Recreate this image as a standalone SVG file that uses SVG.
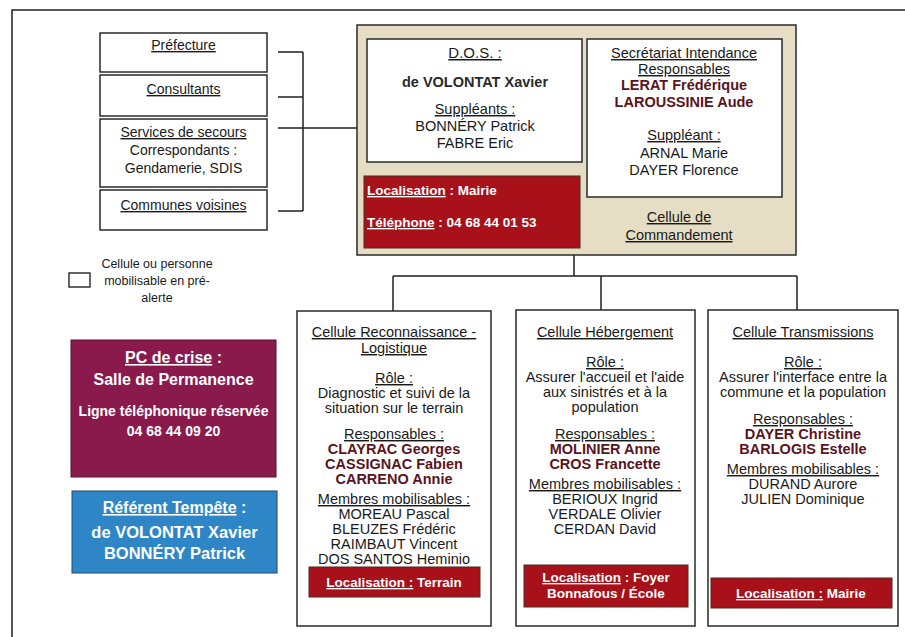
<svg xmlns="http://www.w3.org/2000/svg" width="905" height="637" viewBox="0 0 905 637">
<style>
text{font-family:"Liberation Sans",Arial,sans-serif;text-anchor:middle;fill:#1a1a1a}
.r{font-size:14.5px}
.b{font-size:14.5px;font-weight:bold;fill:#5a1420}
.u{text-decoration:underline}
.w{fill:#ffffff;font-weight:bold}
.box{fill:#ffffff;stroke:#2a2a2a;stroke-width:1.5}
.red{fill:#a8101a;stroke:#4a2a20;stroke-width:1}
.ln{stroke:#222;stroke-width:1.5;fill:none}
</style>
<rect x="0" y="0" width="905" height="637" fill="#ffffff"/>
<path class="ln" d="M12,637 V10 H905"/>

<g id="connectors">
<path class="ln" d="M278,52 H303 M278,97 H303 M278,211 H303 M303,52 V211 M278,128 H357"/>
<path class="ln" d="M574,255 V276 M393,276 H797 M393,276 V311 M601,276 V310 M797,276 V310"/>
</g>

<g id="prefecture">
<rect class="box" x="100" y="33" width="167" height="39"/>
<text class="r u" x="183.5" y="50" style="font-size:14px">Préfecture</text>
</g>
<g id="consultants">
<rect class="box" x="100" y="75" width="167" height="41"/>
<text class="r u" x="183.5" y="94" style="font-size:14px">Consultants</text>
</g>
<g id="services">
<rect class="box" x="100" y="119" width="167" height="68"/>
<text class="r" x="183.5" y="137" style="font-size:14px"><tspan class="u">Services de secours</tspan></text>
<text class="r" x="183.5" y="155" style="font-size:14px">Correspondants :</text>
<text class="r" x="183.5" y="173" style="font-size:14px">Gendamerie, SDIS</text>
</g>
<g id="communes">
<rect class="box" x="100" y="190" width="167" height="40"/>
<text class="r u" x="183.5" y="210" style="font-size:14px">Communes voisines</text>
</g>

<g id="legend">
<rect x="69" y="273" width="21" height="14" fill="#fff" stroke="#333" stroke-width="1.5"/>
<text x="157" y="268" style="font-size:12.5px">Cellule ou personne</text>
<text x="157" y="285" style="font-size:12.5px">mobilisable en pré-</text>
<text x="157" y="302" style="font-size:12.5px">alerte</text>
</g>

<g id="commandement">
<rect x="357" y="25" width="439" height="230" fill="#e6dec4" stroke="#2a2a2a" stroke-width="1.5"/>
<rect class="box" x="367" y="39" width="215" height="123"/>
<text class="r u" x="475" y="58" style="font-size:15px">D.O.S. :</text>
<text x="475" y="87" style="font-size:14.5px;font-weight:bold;fill:#2a2a2a">de VOLONTAT Xavier</text>
<text class="r u" x="475" y="114">Suppléants :</text>
<text class="r" x="475" y="131">BONNÉRY Patrick</text>
<text class="r" x="475" y="148">FABRE Eric</text>
<rect class="red" x="364" y="176" width="216" height="72"/>
<text class="w" x="367" y="195" style="font-size:13.5px;text-anchor:start"><tspan class="u">Localisation</tspan> : Mairie</text>
<text class="w" x="367" y="227" style="font-size:13.5px;text-anchor:start"><tspan class="u">Téléphone</tspan> : 04 68 44 01 53</text>
<rect class="box" x="587" y="39" width="195" height="158"/>
<text class="r u" x="684" y="58">Secrétariat Intendance</text>
<text class="r u" x="684" y="74">Responsables</text>
<text class="b" x="684" y="90">LERAT Frédérique</text>
<text class="b" x="684" y="107">LAROUSSINIE Aude</text>
<text class="r u" x="684" y="140">Suppléant :</text>
<text class="r" x="684" y="158">ARNAL Marie</text>
<text class="r" x="684" y="175">DAYER Florence</text>
<text class="r u" x="679" y="222">Cellule de</text>
<text class="r u" x="679" y="240">Commandement</text>
</g>

<g id="pc-crise">
<rect x="71" y="340" width="205" height="137" fill="#8a1a4c" stroke="#5a1030" stroke-width="1"/>
<text class="w" x="173.5" y="363" style="font-size:16px"><tspan class="u">PC de crise</tspan> :</text>
<text class="w" x="173.5" y="385" style="font-size:16px">Salle de Permanence</text>
<text class="w" x="173.5" y="416" style="font-size:14px">Ligne téléphonique réservée</text>
<text class="w" x="173.5" y="436" style="font-size:14px">04 68 44 09 20</text>
</g>

<g id="referent">
<rect x="72" y="491" width="205" height="82" fill="#2e86c6" stroke="#1a4a70" stroke-width="1"/>
<text class="w" x="174.5" y="513" style="font-size:16px"><tspan class="u">Référent Tempête</tspan> :</text>
<text class="w" x="174.5" y="538" style="font-size:16.5px">de VOLONTAT Xavier</text>
<text class="w" x="174.5" y="559" style="font-size:16.5px">BONNÉRY Patrick</text>
</g>

<g id="reconnaissance">
<rect class="box" x="297" y="311" width="194" height="315"/>
<text class="r u" x="394" y="337">Cellule Reconnaissance -</text>
<text class="r u" x="394" y="353">Logistique</text>
<text class="r u" x="394" y="383">Rôle :</text>
<text class="r" x="394" y="398">Diagnostic et suivi de la</text>
<text class="r" x="394" y="413">situation sur le terrain</text>
<text class="r u" x="394" y="439">Responsables :</text>
<text class="b" x="394" y="454">CLAYRAC Georges</text>
<text class="b" x="394" y="469">CASSIGNAC Fabien</text>
<text class="b" x="394" y="484">CARRENO Annie</text>
<text class="r u" x="394" y="504">Membres mobilisables :</text>
<text class="r" x="394" y="519">MOREAU Pascal</text>
<text class="r" x="394" y="534">BLEUZES Frédéric</text>
<text class="r" x="394" y="549">RAIMBAUT Vincent</text>
<text class="r" x="394" y="564">DOS SANTOS Heminio</text>
<rect class="red" x="309" y="567" width="171" height="30"/>
<text class="w" x="394" y="587" style="font-size:13.5px"><tspan class="u">Localisation :</tspan> Terrain</text>
</g>

<g id="hebergement">
<rect class="box" x="516" y="310" width="179" height="316"/>
<text class="r u" x="605" y="337">Cellule Hébergement</text>
<text class="r u" x="605" y="367">Rôle :</text>
<text class="r" x="605" y="382">Assurer l'accueil et l'aide</text>
<text class="r" x="605" y="397">aux sinistrés et à la</text>
<text class="r" x="605" y="412">population</text>
<text class="r u" x="605" y="439">Responsables :</text>
<text class="b" x="605" y="454">MOLINIER Anne</text>
<text class="b" x="605" y="469">CROS Francette</text>
<text class="r u" x="605" y="489">Membres mobilisables :</text>
<text class="r" x="605" y="504">BERIOUX Ingrid</text>
<text class="r" x="605" y="519">VERDALE Olivier</text>
<text class="r" x="605" y="534">CERDAN David</text>
<rect class="red" x="524" y="565" width="164" height="42"/>
<text class="w" x="606" y="582" style="font-size:13.5px"><tspan class="u">Localisation</tspan> : Foyer</text>
<text class="w" x="606" y="598" style="font-size:13.5px">Bonnafous / École</text>
</g>

<g id="transmissions">
<rect class="box" x="708" y="310" width="190" height="316"/>
<text class="r u" x="803" y="337">Cellule Transmissions</text>
<text class="r u" x="803" y="367">Rôle :</text>
<text class="r" x="803" y="382">Assurer l'interface entre la</text>
<text class="r" x="803" y="397">commune et la population</text>
<text class="r u" x="803" y="424">Responsables :</text>
<text class="b" x="803" y="439">DAYER Christine</text>
<text class="b" x="803" y="454">BARLOGIS Estelle</text>
<text class="r u" x="803" y="474">Membres mobilisables :</text>
<text class="r" x="803" y="489">DURAND Aurore</text>
<text class="r" x="803" y="504">JULIEN Dominique</text>
<rect class="red" x="711" y="578" width="181" height="30"/>
<text class="w" x="801" y="598" style="font-size:13.5px"><tspan class="u">Localisation :</tspan> Mairie</text>
</g>
</svg>
